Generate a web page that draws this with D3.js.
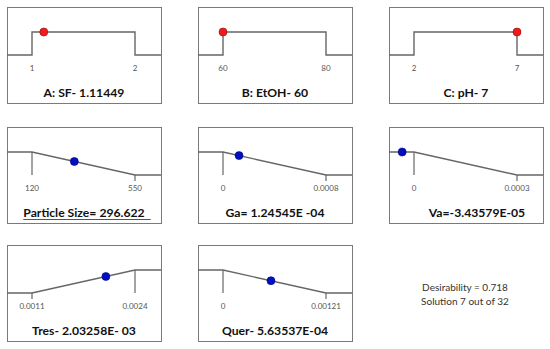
<!DOCTYPE html>
<meta charset="utf-8">
<script src="https://d3js.org/d3.v7.min.js"></script>
<style>
  body { margin: 0; background: #fff; }
</style>
<body>
<div id="my_dataviz"></div>
<script>

// factor / response data
var names     = ["A: SF", "B: EtOH", "C: pH", "Particle Size", "Ga", "Va", "Tres", "Quer"];
var goals     = ["range", "range", "range", "min", "min", "min", "max", "min"];
var lows      = [1, 60, 2, 120, 0, 0, 0.0011, 0];
var highs     = [2, 80, 7, 550, 0.0008, 0.0003, 0.0024, 0.00121];
var lowTicks  = ["1", "60", "2", "120", "0", "0", "0.0011", "0"];
var highTicks = ["2", "80", "7", "550", "0.0008", "0.0003", "0.0024", "0.00121"];
var solution  = [1.11449, 60, 7, 296.622, 1.24545e-4, -3.43579e-5, 2.03258e-3, 5.63537e-4];
var titles    = ["A: SF- 1.11449", "B: EtOH- 60", "C: pH- 7", "Particle Size= 296.622",
                 "Ga= 1.24545E -04", "Va=-3.43579E-05", "Tres- 2.03258E- 03", "Quer- 5.63537E-04"];
var summary   = ["Desirability = 0.718", "Solution 7 out of 32"];

var width = 550, height = 349;
var colX = [7, 198, 389], rowY = [7, 127, 245];
var boxW = 154, boxH = 96;

var svg = d3.select("#my_dataviz")
  .append("svg")
    .attr("width", width)
    .attr("height", height);

// desirability 0..1 -> vertical position inside a box
var y = d3.scaleLinear().domain([0, 1]).range([48, 25]);

names.forEach(function(name, i) {
  var g = svg.append("g")
    .attr("transform", "translate(" + colX[i % 3] + "," + rowY[Math.floor(i / 3)] + ")");

  var x = d3.scaleLinear().domain([lows[i], highs[i]]).range([25, 128]);

  g.append("rect")
    .attr("x", 0.5).attr("y", 0.5)
    .attr("width", boxW).attr("height", boxH)
    .attr("fill", "none")
    .attr("stroke", "#7a7a7a")
    .attr("stroke-width", 1);

  // desirability profile
  var pts;
  if (goals[i] == "range") {
    pts = [[0, y(0)], [x(lows[i]), y(0)], [x(lows[i]), y(1)], [x(highs[i]), y(1)], [x(highs[i]), y(0)], [boxW, y(0)]];
  } else if (goals[i] == "min") {
    pts = [[0, y(1)], [x(lows[i]), y(1)], [x(highs[i]), y(0)], [boxW, y(0)]];
  } else {
    pts = [[0, y(0)], [x(lows[i]), y(0)], [x(highs[i]), y(1)], [boxW, y(1)]];
  }
  g.append("path")
    .attr("d", d3.line()(pts))
    .attr("fill", "none")
    .attr("stroke", "#666")
    .attr("stroke-width", 1.4);

  // vertical marks for response plots
  if (goals[i] != "range") {
    var full = goals[i] == "min" ? lows[i] : highs[i];
    var stub = goals[i] == "min" ? highs[i] : lows[i];
    g.append("line")
      .attr("x1", x(full)).attr("x2", x(full))
      .attr("y1", y(1)).attr("y2", y(0))
      .attr("stroke", "#666").attr("stroke-width", 1.2);
    g.append("line")
      .attr("x1", x(stub)).attr("x2", x(stub))
      .attr("y1", y(0)).attr("y2", y(0) + 6)
      .attr("stroke", "#666").attr("stroke-width", 1.2);
  }

  // tick labels
  g.selectAll(".tick")
    .data([[lows[i], lowTicks[i]], [highs[i], highTicks[i]]])
    .enter()
    .append("text")
      .attr("x", function(d) { return x(d[0]); })
      .attr("y", 64)
      .attr("text-anchor", "middle")
      .style("font-family", "Lato, 'Open Sans', sans-serif")
      .style("font-size", "8px")
      .style("fill", "#555")
      .text(function(d) { return d[1]; });

  // solution point
  var v = solution[i], d;
  if (goals[i] == "range") d = 1;
  else if (goals[i] == "min") d = Math.max(0, Math.min(1, (highs[i] - v) / (highs[i] - lows[i])));
  else d = Math.max(0, Math.min(1, (v - lows[i]) / (highs[i] - lows[i])));

  g.append("circle")
    .attr("cx", x(v))
    .attr("cy", y(d))
    .attr("r", 4)
    .style("fill", goals[i] == "range" ? "#ee1c1c" : "#0010c0")
    .style("stroke", goals[i] == "range" ? "#a00000" : "#000080")
    .style("stroke-width", 0.6);

  // title
  var tx = boxW / 2 + (name == "Va" ? 11 : 0);
  var t = g.append("text")
    .attr("x", tx)
    .attr("y", 90)
    .attr("text-anchor", "middle")
    .style("font-family", "Lato, 'Open Sans', sans-serif")
    .style("font-weight", "bold")
    .style("font-size", "12.2px")
    .style("fill", "#111")
    .text(titles[i]);

  if (name == "Particle Size") {
    var bb = t.node().getBBox();
    g.append("line")
      .attr("x1", bb.x).attr("x2", bb.x + bb.width + 6)
      .attr("y1", 92.5).attr("y2", 92.5)
      .attr("stroke", "#555").attr("stroke-width", 1);
  }
});

// summary text
svg.selectAll(".summary")
  .data(summary)
  .enter()
  .append("text")
    .attr("x", 465)
    .attr("y", function(d, i) { return 291 + i * 14; })
    .attr("text-anchor", "middle")
    .style("font-family", "Lato, 'Open Sans', sans-serif")
    .style("font-size", "10px")
    .style("fill", "#333")
    .text(function(d) { return d; });

</script>
</body>
